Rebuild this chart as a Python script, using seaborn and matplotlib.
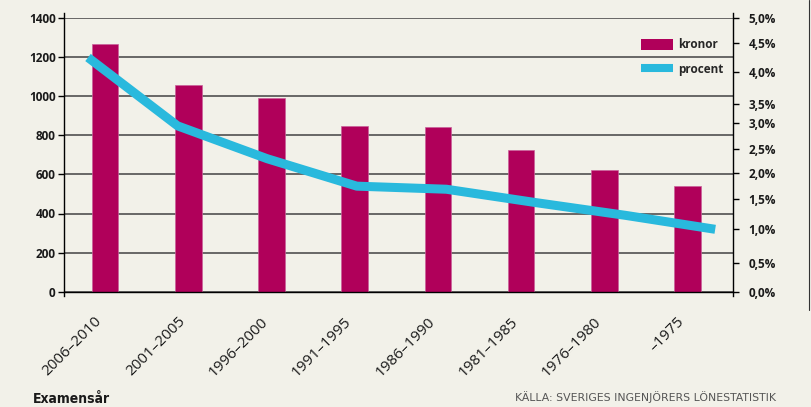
import numpy as np
import pandas as pd
import matplotlib
matplotlib.use("Agg")
import matplotlib.pyplot as plt
import matplotlib.transforms as mtransforms
import seaborn as sns
from matplotlib.lines import Line2D
from matplotlib.patches import Patch

# ---------------- data ----------------
categories = ["2006–2010", "2001–2005", "1996–2000", "1991–1995",
              "1986–1990", "1981–1985", "1976–1980", "–1975"]
kronor = [1268, 1056, 990, 849, 840, 727, 624, 541]
procent = [4.25, 2.95, 2.3, 1.75, 1.69, 1.44, 1.23, 1.0]

kr_ticks = [0, 200, 400, 600, 800, 1000, 1200, 1400]
pct_ticks = [0.0, 0.5, 1.0, 1.5, 2.0, 2.5, 3.0, 3.5, 4.0, 4.5, 5.0]
pct_labels = ["0,0%", "0,5%", "1,0%", "1,5%", "2,0%", "2,5%",
              "3,0%", "3,5%", "4,0%", "4,5%", "5,0%"]
# the right-hand percent axis of the reference is not linear:
# height (px above the baseline) at which each percent tick sits
pct_tick_heights = [0, 28.4, 62.4, 92.7, 118.4, 142.7, 168.4, 187.7, 220.0, 248.4, 273.7]

xlabel_text = "Examensår"
source_text = "KÄLLA: SVERIGES INGENJÖRERS LÖNESTATISTIK"

# ---------------- style ----------------
BG = "#f2f1e9"
BAR = "#b0005a"
LINE = "#29b9dd"

sns.set_style("white")
plt.rcParams["font.family"] = ["Open Sans", "DejaVu Sans"]

W, H = 812, 407
fig = plt.figure(figsize=(W / 100, H / 100), dpi=100, facecolor=BG)

left, right, bottom, top = 64, 733.3, 291.7, 18.0
rect = [left / W, (H - bottom) / H, (right - left) / W, (bottom - top) / H]
ax = fig.add_axes(rect, facecolor=BG)

df = pd.DataFrame({"år": categories, "kronor": kronor})
sns.barplot(data=df, x="år", y="kronor", color=BAR, saturation=1, width=0.32,
            edgecolor="#c9619a", linewidth=0.5, ax=ax, zorder=2)

ax.set_xlim(-0.495, 7.55)
ax.set_ylim(0, 1400)
ax.set_yticks(kr_ticks)
ax.set_yticklabels([str(t) for t in kr_ticks])
ax.yaxis.grid(True, color="#505050", lw=1.2, zorder=0)
ax.xaxis.grid(False)
ax.set_axisbelow(True)
ax.set_xlabel("")
ax.set_ylabel("")

for s in ["left", "right", "bottom"]:
    ax.spines[s].set_visible(True)
    ax.spines[s].set_color("black")
    ax.spines[s].set_linewidth(1.0)
ax.spines["top"].set_visible(False)
ax.spines["left"].set_bounds(-20, 1425)
ax.spines["right"].set_bounds(-20, 1425)

ax.tick_params(axis="y", direction="out", length=4, width=1, color="black",
               pad=2, labelsize=8.5, labelcolor="#1a1a1a", left=True)
for t in ax.get_yticklabels():
    t.set_fontweight("bold")
ax.tick_params(axis="x", length=0, pad=20, labelsize=11, labelcolor="#1a1a1a")
shift = mtransforms.ScaledTranslation(-4 / 72, 0, fig.dpi_scale_trans)
for t in ax.get_xticklabels():
    t.set_rotation(45)
    t.set_ha("right")
    t.set_va("center")
    t.set_rotation_mode("anchor")
    t.set_transform(t.get_transform() + shift)

# ---------------- percent line on its own axes ----------------
ax2 = fig.add_axes(rect, facecolor="none", label="procent")


def fwd(v):
    return np.interp(v, pct_ticks, pct_tick_heights)


def inv(h):
    return np.interp(h, pct_tick_heights, pct_ticks)


ax2.set_yscale("function", functions=(fwd, inv))
sns.lineplot(x=categories, y=procent, sort=False, color=LINE, lw=6.5, ax=ax2,
             solid_capstyle="butt", solid_joinstyle="round", zorder=3)
ax2.set_xlim(-0.268, 7.202)
ax2.set_ylim(0, 5.0)
ax2.set_yticks(pct_ticks)
ax2.set_yticklabels(pct_labels)
ax2.yaxis.tick_right()
ax2.set_xticks([])
ax2.set_xlabel("")
ax2.set_ylabel("")
for s in ax2.spines.values():
    s.set_visible(False)
ax2.tick_params(axis="y", right=True, left=False, direction="out", length=4,
                width=1, color="black", pad=7, labelsize=8.5, labelcolor="#1a1a1a")
for t in ax2.get_yticklabels():
    t.set_fontweight("bold")
ax2.grid(False)

# ---------------- legend ----------------
handles = [Patch(facecolor=BAR, edgecolor="none"),
           Line2D([], [], color=LINE, lw=5.8, solid_capstyle="butt")]
fs_px = 8.5 * 100 / 72
ax2.legend(handles, ["kronor", "procent"], loc="upper left",
           bbox_to_anchor=(641 / W, 1 - 38.5 / H), bbox_transform=fig.transFigure,
           frameon=False, borderpad=0, borderaxespad=0,
           handlelength=32 / fs_px, handleheight=13.3 / fs_px,
           handletextpad=5 / fs_px, labelspacing=0.95,
           prop=dict(family=["Open Sans", "DejaVu Sans"], weight="bold", size=8.5))

# ---------------- texts ----------------
fig.text(33 / W, 1.0 / H, xlabel_text, ha="left", va="bottom", fontsize=10,
         fontweight="bold", color="#1a1a1a", fontstretch="condensed",
         family=["Liberation Sans Narrow", "DejaVu Sans"])
fig.text(776 / W, 1 - 397.3 / H, source_text, ha="right", va="center",
         fontsize=7.8, color="#555555", family=["DejaVu Sans"])

fig.add_artist(Line2D([809 / W, 809 / W], [1 - 310 / H, 1], transform=fig.transFigure,
                      color="#333333", lw=0.8))

fig.savefig("out.png", dpi=100, facecolor=BG)
